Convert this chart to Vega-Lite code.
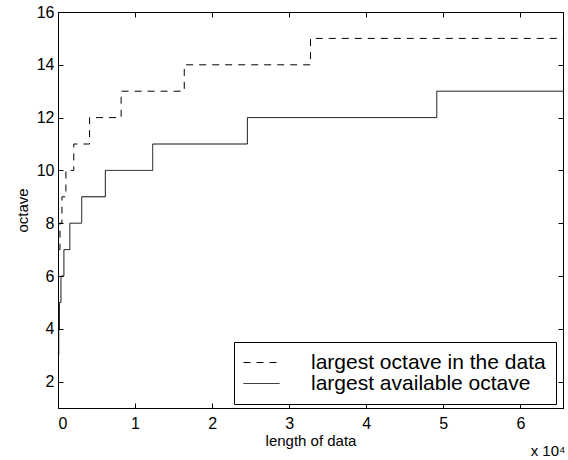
{
  "$schema": "https://vega.github.io/schema/vega-lite/v6.json",
  "width": 505,
  "height": 396,
  "autosize": "none",
  "padding": {"left": 58, "top": 12, "right": 5, "bottom": 52},
  "background": "white",
  "config": {
    "font": "Liberation Sans",
    "view": {"stroke": "black", "strokeWidth": 1},
    "axis": {"domainColor": "black", "tickColor": "black", "labelColor": "black", "titleColor": "black", "grid": false, "labelFont": "Liberation Sans", "titleFont": "Liberation Sans", "labelFontSize": 16, "titleFontSize": 15, "titleFontWeight": "normal"}
  },
  "title": {"text": "x 10⁴", "orient": "bottom", "anchor": "end", "fontSize": 15, "fontWeight": "normal", "font": "Liberation Sans", "color": "black", "offset": -4, "dx": 2},
  "data": {"values": [
    {"n": 128, "octave": 7, "series": "largest octave in the data"},
    {"n": 256, "octave": 8, "series": "largest octave in the data"},
    {"n": 512, "octave": 9, "series": "largest octave in the data"},
    {"n": 1024, "octave": 10, "series": "largest octave in the data"},
    {"n": 2048, "octave": 11, "series": "largest octave in the data"},
    {"n": 4096, "octave": 12, "series": "largest octave in the data"},
    {"n": 8192, "octave": 13, "series": "largest octave in the data"},
    {"n": 16384, "octave": 14, "series": "largest octave in the data"},
    {"n": 32768, "octave": 15, "series": "largest octave in the data"},
    {"n": 65536, "octave": 15, "series": "largest octave in the data"},
    {"n": 48, "octave": 3, "series": "largest available octave"},
    {"n": 96, "octave": 4, "series": "largest available octave"},
    {"n": 192, "octave": 5, "series": "largest available octave"},
    {"n": 384, "octave": 6, "series": "largest available octave"},
    {"n": 768, "octave": 7, "series": "largest available octave"},
    {"n": 1536, "octave": 8, "series": "largest available octave"},
    {"n": 3072, "octave": 9, "series": "largest available octave"},
    {"n": 6144, "octave": 10, "series": "largest available octave"},
    {"n": 12288, "octave": 11, "series": "largest available octave"},
    {"n": 24576, "octave": 12, "series": "largest available octave"},
    {"n": 49152, "octave": 13, "series": "largest available octave"},
    {"n": 65536, "octave": 13, "series": "largest available octave"}
  ]},
  "layer": [
    {
      "mark": {"type": "line", "interpolate": "step-after", "color": "black", "strokeWidth": 1, "clip": true},
      "encoding": {
        "x": {"field": "n", "type": "quantitative", "scale": {"domain": [0, 65536], "nice": false, "zero": false},
          "axis": {"orient": "bottom", "title": "length of data", "values": [0, 10000, 20000, 30000, 40000, 50000, 60000], "labelExpr": "datum.value / 10000", "tickSize": -5, "labelPadding": 12, "titlePadding": 2}},
        "y": {"field": "octave", "type": "quantitative", "scale": {"domain": [1, 16], "nice": false, "zero": false},
          "axis": {"orient": "left", "title": "octave", "values": [2, 4, 6, 8, 10, 12, 14, 16], "tickSize": -5, "labelPadding": 9, "titlePadding": 6}},
        "strokeDash": {"field": "series", "type": "nominal",
          "scale": {"domain": ["largest octave in the data", "largest available octave"], "range": [[7, 6], [1, 0]]},
          "legend": {"title": null, "orient": "none", "legendX": 176, "legendY": 330, "strokeColor": "black", "fillColor": "white", "padding": 10, "symbolType": "M-4,0H4", "symbolSize": 81, "symbolOffset": 7, "symbolStrokeColor": "black", "symbolStrokeWidth": 1, "labelFontSize": 21, "labelFont": "Liberation Sans", "labelColor": "black", "labelOffset": 39, "labelLimit": 0, "rowPadding": -8, "cornerRadius": 0}}
      }
    },
    {
      "mark": {"type": "line", "interpolate": "step-after", "opacity": 0},
      "encoding": {
        "x": {"field": "n", "type": "quantitative", "axis": {"orient": "top", "title": null, "labels": false, "values": [0, 10000, 20000, 30000, 40000, 50000, 60000], "tickSize": -5}},
        "y": {"field": "octave", "type": "quantitative", "axis": {"orient": "right", "title": null, "labels": false, "values": [2, 4, 6, 8, 10, 12, 14, 16], "tickSize": -5}},
        "detail": {"field": "series"}
      }
    }
  ],
  "resolve": {"axis": {"x": "independent", "y": "independent"}}
}
